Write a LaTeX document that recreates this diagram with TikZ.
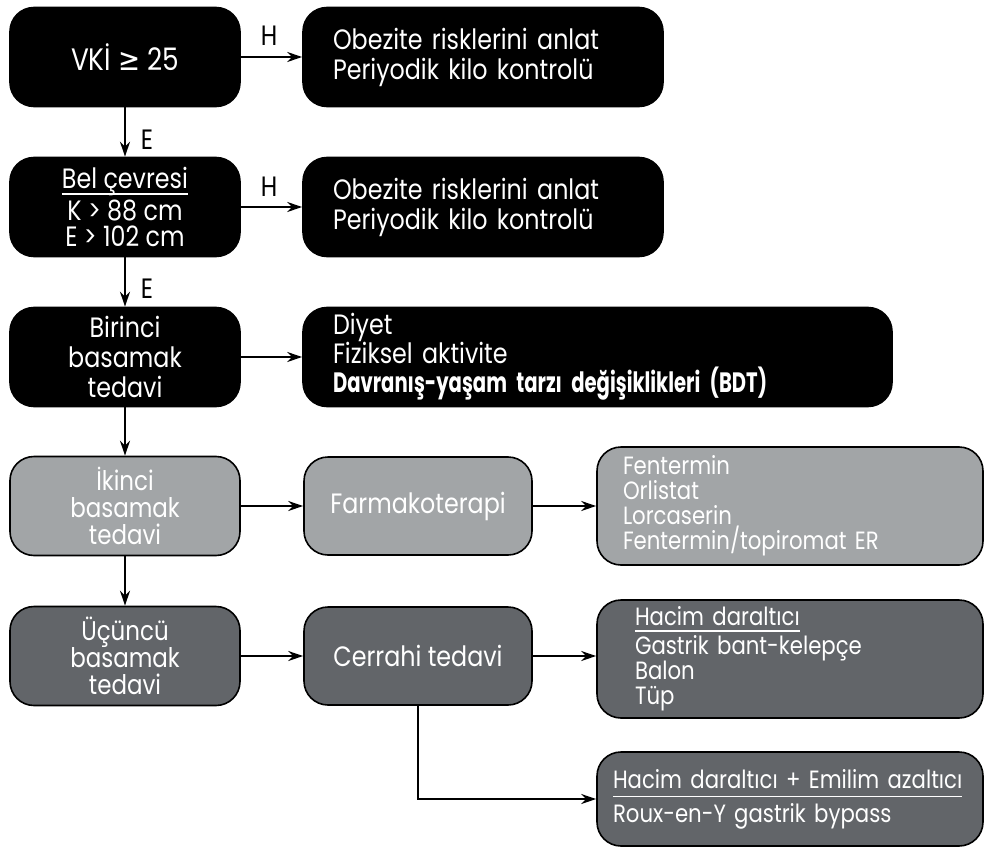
\documentclass[tikz,border=0pt]{standalone}
\usepackage{fontspec}
\setmainfont{Poppins}[FakeStretch=0.85]
\newfontfamily\condb{Poppins}[FakeStretch=0.7]
\newfontfamily\dejavu{DejaVu Sans}[FakeStretch=0.85]
\usetikzlibrary{arrows.meta}
\definecolor{lightg}{HTML}{A2A5A7}
\definecolor{darkg}{HTML}{626569}
\newcommand\fsz{\fontsize{28}{30}\selectfont}
\newcommand\fszs{\fontsize{25}{25}\selectfont}
\newcommand\myul[2]{\setbox0\hbox{#2}\rlap{\usebox0}\rule[#1]{\wd0}{1.6pt}}
\begin{document}
\begin{tikzpicture}[x=1pt,y=-1pt,
  box/.style={draw=black, line width=1.6pt, rounded corners=24pt, text=white, font=\fsz, inner sep=0pt, align=center},
  blk/.style={box, fill=black},
  lgr/.style={box, fill=lightg},
  dgr/.style={box, fill=darkg},
  leftcol/.style={minimum width=230pt, minimum height=99pt},
  midcol/.style={minimum width=228pt, minimum height=98pt},
  arr/.style={line width=1.6pt, -{Stealth[length=15pt,width=10pt,inset=5pt]}},
  lab/.style={font=\fsz, text=black, inner sep=0pt}]
\useasboundingbox (0,0) rectangle (985,848);
% left column
\node[blk, leftcol, font=\fontsize{31}{31}\selectfont] (b1) at (125,57) {VKİ {\dejavu≥} 25};
\node[blk, leftcol, font=\fontsize{28}{26}\selectfont] (b2) at (125,207) {\myul{-6pt}{Bel çevresi}\\[3pt] K > 88 cm\\ E > 102 cm};
\node[blk, leftcol] (b3) at (125,357) {Birinci\\ basamak\\ tedavi};
\node[lgr, leftcol, font=\fontsize{27}{27}\selectfont] (b4) at (125,506) {İkinci\\ basamak\\ tedavi};
\node[dgr, leftcol, font=\fontsize{27}{27}\selectfont] (b5) at (125,656) {Üçüncü\\ basamak\\ tedavi};
% right of top
\node[blk, minimum height=99pt, text width=300pt, inner xsep=30pt, align=left] (o1) at (483,57) {Obezite risklerini anlat\\ Periyodik kilo kontrolü};
\node[blk, minimum height=99pt, text width=300pt, inner xsep=30pt, align=left] (o2) at (483,207) {Obezite risklerini anlat\\ Periyodik kilo kontrolü};
\node[blk, minimum height=99pt, text width=529pt, inner xsep=30pt, align=left, font=\fontsize{28}{29}\selectfont] (d3) at (597.5,357) {Diyet\\ Fiziksel aktivite\\ {\condb\bfseries Davranış-yaşam tarzı değişiklikleri (BDT)}};
% middle column
\node[lgr, midcol] (f4) at (418,506) {Farmakoterapi};
\node[dgr, midcol] (c5) at (418,656) {Cerrahi tedavi};
% right column
\node[lgr, minimum height=118pt, text width=334pt, inner xsep=26pt, align=left, font=\fszs] (l4) at (790,506) {Fentermin\\ Orlistat\\ Lorcaserin\\ Fentermin/topiromat ER};
\node[dgr, minimum height=118pt, text width=310pt, inner xsep=38pt, align=left, font=\fszs] (h5) at (790,659) {\myul{-6pt}{Hacim daraltıcı}\\[3pt] Gastrik bant-kelepçe\\ Balon\\ Tüp};
\node[dgr, minimum height=94pt, text width=354pt, inner xsep=16pt, align=left, font=\fontsize{25}{31}\selectfont] (r5) at (790,799) {\myul{-9pt}{Hacim daraltıcı + Emilim azaltıcı}\\[3pt] Roux-en-Y gastrik bypass};
% connectors
\draw[arr] (b1) -- (o1);
\draw[arr] (b2) -- (o2);
\draw[arr] (b3) -- (d3);
\draw[arr] (b1) -- (b2);
\draw[arr] (b2) -- (b3);
\draw[arr] (b3) -- (b4);
\draw[arr] (b4) -- (b5);
\draw[arr] (b4) -- (f4);
\draw[arr] (f4) -- (l4);
\draw[arr] (b5) -- (c5);
\draw[arr] (c5.east) -- (c5.east -| h5.west);
\draw[arr] (c5.south) |- (r5.west);
% labels
\node[lab] (h1) at (269,36) {H};
\node[lab] (h2) at (269,187) {H};
\node[lab] (e1) at (147,140) {E};
\node[lab] (e2) at (147,289) {E};
\end{tikzpicture}
\end{document}
